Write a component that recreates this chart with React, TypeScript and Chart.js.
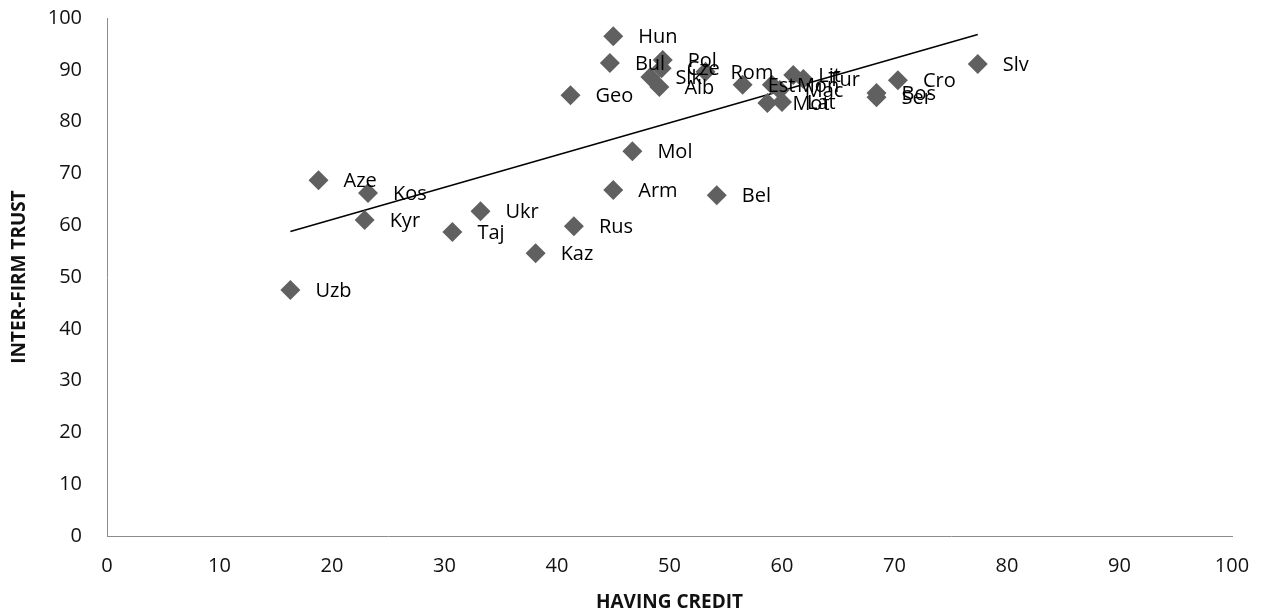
import React, { useEffect, useRef } from "react";
import { Chart, registerables } from "chart.js";

Chart.register(...registerables);

const countries = ["Uzb","Aze","Kos","Kyr","Taj","Ukr","Kaz","Rus","Arm","Mol","Bel","Geo","Hun","Bul","Pol","Slk","Alb","Cze","Rom","Est","Mon","Mac","Lit","Tur","Mot","Lat","Bos","Ser","Cro","Slv"];
const havingCredit = [16.3,18.8,23.2,22.9,30.7,33.2,38.1,41.5,45.0,46.7,54.2,41.2,45.0,44.7,49.4,48.3,49.1,49.3,53.2,56.5,59.1,59.8,61.0,61.9,58.7,60.0,68.4,68.4,70.3,77.4];
const interFirmTrust = [47.5,68.7,66.2,61.0,58.7,62.7,54.6,59.8,66.8,74.3,65.8,85.1,96.5,91.3,91.9,88.6,86.7,90.3,89.6,87.1,87.1,86.1,89.0,88.2,83.6,83.8,85.5,84.7,88.0,91.1];
const trendX = [16.3, 77.4];
const trendY = [58.8, 96.8];
const axisTicks = [0,10,20,30,40,50,60,70,80,90,100];

const FONT = "'Open Sans', sans-serif";

export default function App() {
  const ref = useRef<HTMLCanvasElement | null>(null);
  useEffect(() => {
    document.body.style.margin = "0";
    const canvas = ref.current!;
    const labelPlugin = {
      id: "pointLabels",
      afterDatasetsDraw(chart: any) {
        const meta = chart.getDatasetMeta(0);
        const ctx = chart.ctx;
        ctx.save();
        ctx.font = `20px ${FONT}`;
        ctx.fillStyle = "#000";
        ctx.textBaseline = "middle";
        ctx.textAlign = "left";
        meta.data.forEach((pt: any, i: number) => {
          ctx.fillText(countries[i], pt.x + 25, pt.y + 1);
        });
        ctx.restore();
      },
    };
    const chart = new Chart(canvas, {
      type: "scatter",
      data: {
        datasets: [
          {
            data: havingCredit.map((x, i) => ({ x, y: interFirmTrust[i] })),
            pointStyle: "rectRot",
            pointRadius: 10,
            pointHoverRadius: 10,
            backgroundColor: "#606060",
            borderColor: "#606060",
            borderWidth: 0,
          },
          {
            type: "line",
            data: trendX.map((x, i) => ({ x, y: trendY[i] })),
            borderColor: "#000",
            borderWidth: 1.5,
            pointRadius: 0,
            showLine: true,
            fill: false,
          } as any,
        ],
      },
      options: {
        responsive: false,
        animation: false,
        layout: { padding: { top: 18, right: 37, left: 0, bottom: 0 } },
        plugins: { legend: { display: false }, tooltip: { enabled: false } },
        scales: {
          x: {
            type: "linear",
            min: 0,
            max: 100,
            afterBuildTicks: (s: any) => { s.ticks = axisTicks.map((v) => ({ value: v })); },
            afterFit: (s: any) => { s.height = 80; s.paddingLeft = 0; s.paddingRight = 0; s.paddingTop = 0; s.paddingBottom = 0; },
            grid: { display: false, drawTicks: false },
            border: { display: true, color: "#8c8c8c", width: 1 },
            ticks: { padding: 18, maxRotation: 0, color: "#111", font: { family: FONT, size: 20 } },
            title: {
              display: true,
              text: "HAVING CREDIT",
              color: "#111",
              font: { family: FONT, size: 19, weight: "bold" },
              padding: { top: 0, bottom: 2 },
            },
          },
          y: {
            type: "linear",
            min: 0,
            max: 100,
            afterBuildTicks: (s: any) => { s.ticks = axisTicks.map((v) => ({ value: v })); },
            afterFit: (s: any) => { s.width = 107; s.paddingTop = 0; s.paddingBottom = 0; s.paddingLeft = 0; s.paddingRight = 0; },
            grid: { display: false, drawTicks: false },
            border: { display: true, color: "#8c8c8c", width: 1 },
            ticks: { padding: 25, color: "#111", font: { family: FONT, size: 20 } },
            title: {
              display: true,
              text: "INTER-FIRM TRUST",
              color: "#111",
              font: { family: FONT, size: 19, weight: "bold" },
              padding: { top: 8, bottom: 0 },
            },
          },
        },
      },
      plugins: [labelPlugin],
    });
    return () => chart.destroy();
  }, []);
  return <canvas ref={ref} width={1269} height={616} style={{ display: "block" }} />;
}
